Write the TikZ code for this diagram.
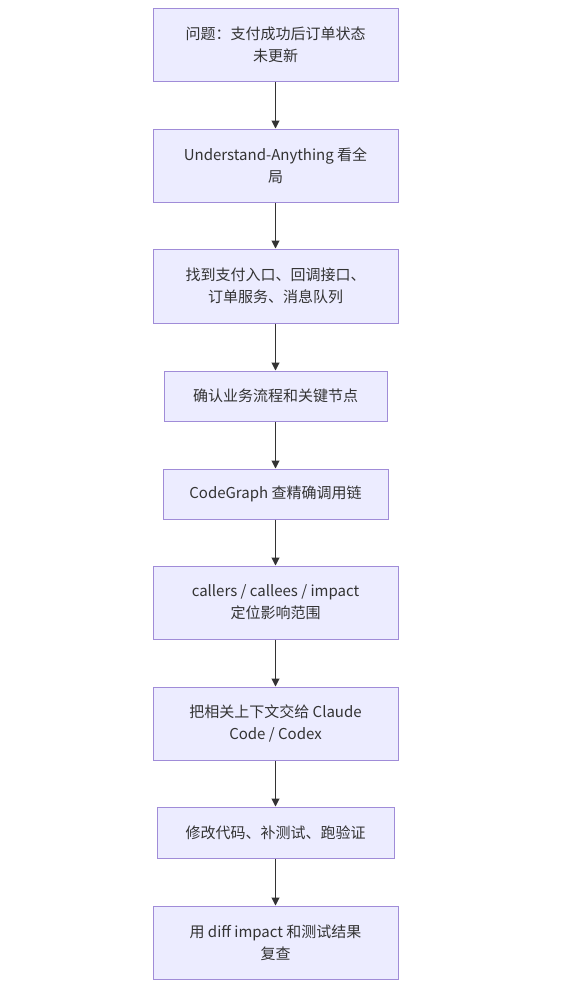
\documentclass[tikz,border=0pt]{standalone}
\usepackage{fontspec}
\setmainfont{Noto Sans CJK SC}
\usetikzlibrary{arrows.meta}
\definecolor{boxfill}{HTML}{ECECFF}
\definecolor{boxline}{HTML}{A08CD8}
\definecolor{txt}{HTML}{333333}
\tikzset{
  flowbox/.style={draw=boxline, fill=boxfill, line width=1pt, inner sep=0pt,
    minimum width=245pt, minimum height=73pt, align=center, text=txt,
    font=\fontsize{15}{22}\selectfont},
  flowarrow/.style={draw=txt, line width=1pt, -{Triangle[length=8pt,width=8pt]}}
}
\begin{document}
\begin{tikzpicture}[x=1pt,y=-1pt]
\useasboundingbox (0,0) rectangle (576,989);
\node[flowbox] (a) at (275.5,44.5) {问题：支付成功后订单状态\\未更新};
\node[flowbox] (b) at (275.5,165.5) {Understand-Anything 看全\\局};
\node[flowbox, minimum height=74pt] (c) at (275.5,286) {找到支付入口、回调接口、\\订单服务、消息队列};
\node[flowbox, minimum width=223pt, minimum height=50pt] (d) at (275.5,396) {确认业务流程和关键节点};
\node[flowbox, minimum width=225pt, minimum height=50pt] (e) at (275.5,494) {CodeGraph 查精确调用链};
\node[flowbox] (f) at (275.5,602.5) {callers / callees / impact\\定位影响范围};
\node[flowbox] (g) at (275.5,723.5) {把相关上下文交给 Claude\\Code / Codex};
\node[flowbox, minimum width=237pt, minimum height=51pt] (h) at (275.5,832.5) {修改代码、补测试、跑验证};
\node[flowbox] (i) at (275.5,942.5) {用 diff impact 和测试结果\\复查};
\draw[flowarrow] (a) -- (b);
\draw[flowarrow] (b) -- (c);
\draw[flowarrow] (c) -- (d);
\draw[flowarrow] (d) -- (e);
\draw[flowarrow] (e) -- (f);
\draw[flowarrow] (f) -- (g);
\draw[flowarrow] (g) -- (h);
\draw[flowarrow] (h) -- (i);
\end{tikzpicture}
\end{document}
